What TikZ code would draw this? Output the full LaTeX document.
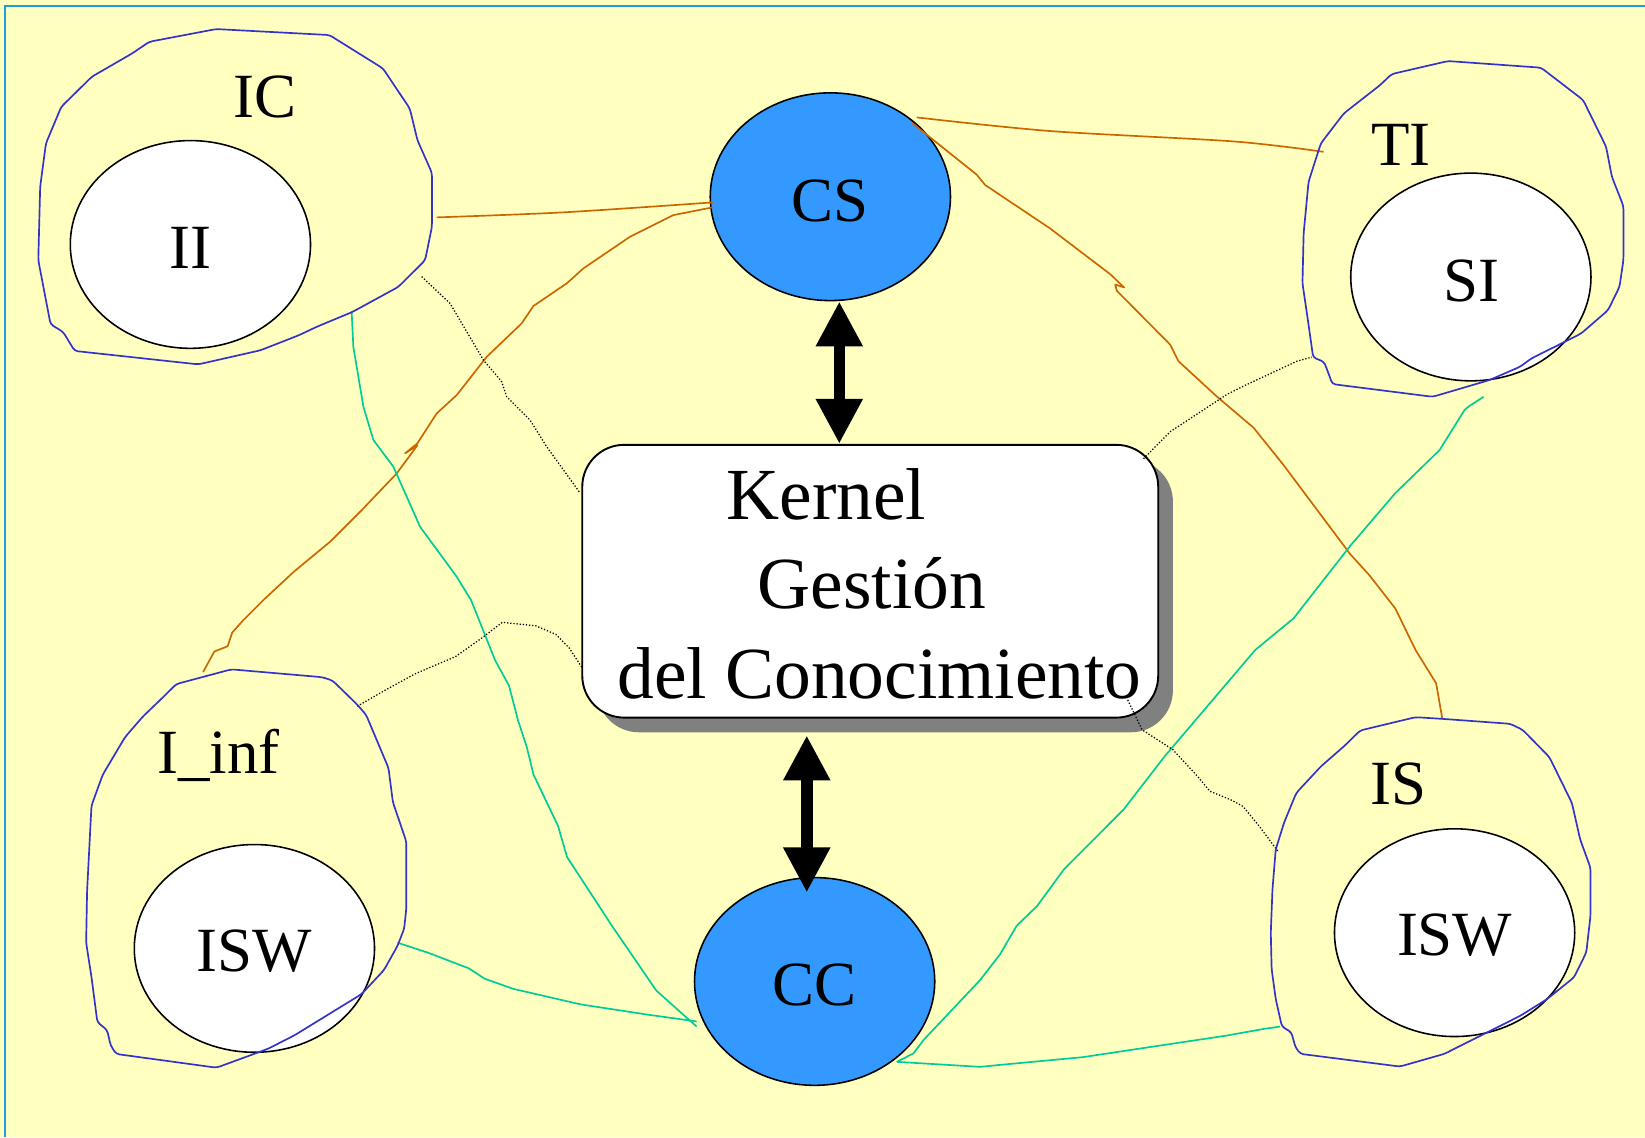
\documentclass[tikz,border=0pt]{standalone}
\usepackage{fontspec}
\setmainfont{Liberation Serif}
\usetikzlibrary{shapes.geometric,arrows.meta,shadows}
\definecolor{bgyellow}{RGB}{255,255,192}
\definecolor{framecyan}{RGB}{30,160,215}
\definecolor{blobblue}{RGB}{51,51,204}
\definecolor{linkorange}{RGB}{204,102,0}
\definecolor{linkgreen}{RGB}{0,204,153}
\definecolor{nodeblue}{RGB}{51,153,255}
\definecolor{shadowgray}{RGB}{128,128,128}
\begin{document}
\begin{tikzpicture}[x=0.5pt,y=-0.5pt,
  lbl/.style={font=\fontsize{30}{36}\selectfont, inner sep=0pt, anchor=base},
  klbl/.style={font=\fontsize{35}{42}\selectfont, inner sep=0pt, anchor=base},
  whiteell/.style={ellipse, draw=black, line width=0.75pt, fill=white, minimum width=114.5pt, minimum height=99pt, inner sep=0pt},
  blueell/.style={whiteell, fill=nodeblue},
  blob/.style={draw=blobblue, line width=0.8pt, rounded corners=1.5pt, line join=round},
  olink/.style={draw=linkorange, line width=0.8pt, line join=round},
  glink/.style={draw=linkgreen, line width=0.8pt, line join=round},
  dlink/.style={draw=black, line width=0.6pt, dash pattern=on 0.6pt off 0.9pt},
  bigarrow/.style={line width=5.5pt, {Triangle[width=21pt,length=21.5pt]}-{Triangle[width=21pt,length=21.5pt]}},
  kbox/.style={draw=black, line width=0.9pt, fill=white, rounded corners=20pt, minimum width=274.5pt, minimum height=130pt, inner sep=0pt, drop shadow={shadow xshift=7pt, shadow yshift=-7pt, fill=shadowgray, opacity=1}}
]
\useasboundingbox (0,0) rectangle (1568,1084);
\fill[bgyellow] (0,0) rectangle (1568,1084);
\draw[framecyan, line width=1pt] (5,1084) -- (5,6) -- (1568,6);

% ellipses
\node[whiteell] (II) at (181.5,233) {};
\node[whiteell] (SI) at (1402,264) {};
\node[whiteell] (ISWa) at (242.5,904) {};
\node[whiteell] (ISWb) at (1386.5,889) {};
\node[blueell] (CS) at (791.5,187.5) {};
\node[blueell] (CC) at (776.5,935.5) {};

% kernel box
\node[kbox] (kernel) at (829.5,554) {};

% orange links
\draw[olink] plot[smooth, tension=0.5] coordinates {(416.3,207.2) (537,202.4) (679.4,192.9)};
\draw[olink] (679.4,197.6) -- (641.9,205) -- (600.6,225.6) -- (556.1,255.8) -- (540.2,270.1) -- (508.4,291.7) -- (497.3,308.2) -- (464,340) -- (435.4,376.5) -- (416.3,394) -- (397.8,422.6) -- (386.1,432.1) -- (397.8,424.5) -- (378.2,451.2) -- (345,486) -- (314.6,516.4) -- (280,545) -- (251,572) -- (232,591) -- (221.3,603) -- (217,616) -- (204.3,621) -- (193.6,640.6);
\draw[olink] plot[smooth, tension=0.5] coordinates {(873.9,111.9) (1001,124.9) (1175.8,134.8) (1261.6,144.7)};
\draw[olink] (869.1,117) -- (931,166.5) -- (939,176.3) -- (1001,217.8) -- (1058.2,261.3) -- (1071.5,274) -- (1063,271.2) -- (1064.5,277.1) -- (1115.4,328.5) -- (1123.3,344.3) -- (1159.9,378) -- (1194.8,407.6) -- (1223.4,443.2) -- (1287,528.2) -- (1305,548) -- (1330,580) -- (1349.3,619.6) -- (1368.9,651.3) -- (1374.8,685.2);

% green links
\draw[glink] (335.2,297.1) -- (336.8,330.5) -- (346.4,387.7) -- (355.9,419.4) -- (375,444.9) -- (400.4,502.1) -- (435.3,549.7) -- (449,572) -- (471.9,629.2) -- (485.2,653.6) -- (493.7,686.3) -- (502.2,712.4) -- (508.6,738.5) -- (532,787.5) -- (540.5,816.9) -- (583.1,882.2) -- (625.6,944.2) -- (651.2,967.1) -- (664,978.5);
\draw[glink] (378.8,898.5) -- (408.6,908.3) -- (446.9,923) -- (461.8,932.8) -- (489.4,942.6) -- (553.3,957.3) -- (617.1,967.1) -- (664,973.6);
\draw[glink] (854.8,1012.1) -- (870.7,1004.1) -- (880.2,991.4) -- (934.2,934.2) -- (953.3,909.5) -- (969,882.5) -- (988.6,863.5) -- (1014.1,828.7) -- (1070.9,771.7) -- (1110.1,721) -- (1196.4,619.6) -- (1233,589.4) -- (1287,520.3) -- (1330,470) -- (1372.2,429) -- (1395.9,390.9) -- (1399.5,387.7) -- (1414.1,378.2);
\draw[glink] (854.8,1012.1) -- (934.2,1016.9) -- (953.3,1015) -- (1031.7,1007.7) -- (1169,987.1) -- (1204.2,980.8) -- (1220,978.5);

% dotted links
\draw[dlink] (402,263.7) -- (429,289.2) -- (460.8,343.2) -- (478.2,363.8) -- (483,378.1) -- (505.2,400.4) -- (521.1,425.8) -- (553,470);
\draw[dlink] (340.5,673.2) -- (366,658.5) -- (395.8,642.2) -- (434.1,625.9) -- (459.6,607.9) -- (478.8,593.2) -- (510.7,596.5) -- (529.9,604.7) -- (542.6,617.7) -- (555.4,637.3);
\draw[dlink] (1090,437.2) -- (1115.4,411.5) -- (1169.4,376) -- (1185.3,368) -- (1236.2,344.3) -- (1250.4,340.4);
\draw[dlink] (1074.9,667.1) -- (1088.6,695.6) -- (1118,714.6) -- (1141.5,740) -- (1153.3,754.2) -- (1172.9,762.2) -- (1184.6,768.5) -- (1200.3,787.5) -- (1218,811.3);

% blobs
\draw[blob] (206,27.7) -- (314,33.4) -- (365,65.2) -- (390.6,103.4) -- (397.9,133.6) -- (411.7,164.8) -- (411.7,216.3) -- (405.2,248.1) -- (379.6,273.5) -- (335.8,297.4) -- (303,311) -- (284.7,319.6) -- (248.2,333.9) -- (189,347.3) -- (71.2,334.5) -- (60.2,316.4) -- (48.2,309.1) -- (36.5,248) -- (38.3,178) -- (43.8,136.7) -- (58.4,101.8) -- (87.6,73.1) -- (126,50.9) -- (142.4,39.8) -- cycle;
\draw[blob] (1380.2,58.2) -- (1468.9,64.5) -- (1509,95.3) -- (1530.9,139.8) -- (1536.4,168.4) -- (1547.4,196.4) -- (1547.4,247.9) -- (1543.7,273.3) -- (1532.8,295.6) -- (1507.2,317.8) -- (1485.3,328.9) -- (1459.8,341.6) -- (1448.8,349.6) -- (1419.6,362.3) -- (1365.6,378.2) -- (1270,366.1) -- (1266.3,355.9) -- (1262,344.8) -- (1251.7,340.7) -- (1246.2,301.9) -- (1241.5,270.1) -- (1242.6,222.5) -- (1247.3,173.2) -- (1259,136.7) -- (1280.9,108.1) -- (1315.6,81) -- (1326.5,70.6) -- cycle;
\draw[blob] (220.5,638) -- (307.3,645.5) -- (317,648.7) -- (340.5,671.6) -- (349,681.4) -- (370.3,732) -- (374.5,764.6) -- (387.3,802.2) -- (387.3,865.9) -- (385.2,885.4) -- (378.8,901.8) -- (366,924.6) -- (344.7,947.5) -- (302.2,973.6) -- (280.9,986.7) -- (255.4,999.7) -- (206.4,1017.7) -- (110.7,1004.6) -- (105.5,996.5) -- (102.1,981.8) -- (92.8,974.3) -- (87.2,931.2) -- (82.1,898.5) -- (83,849.5) -- (87.2,767.9) -- (97.9,738.5) -- (119.2,702.6) -- (136.2,683) -- (153.2,666.7) -- (168.1,652) -- cycle;
\draw[blob] (1349.3,683.6) -- (1374.8,685.2) -- (1439.5,689.9) -- (1451.3,695.6) -- (1476.8,721.6) -- (1498.3,765.3) -- (1506.2,800.2) -- (1516,827.1) -- (1516,873.1) -- (1512,907.9) -- (1500.3,931.6) -- (1474.8,952.2) -- (1449.3,968.1) -- (1417.9,983.9) -- (1376.8,1004.5) -- (1334.4,1016.6) -- (1239.5,1004.5) -- (1234.8,998.2) -- (1230.9,983.9) -- (1221.9,978.5) -- (1216,952.2) -- (1212.1,923.7) -- (1211.3,888.9) -- (1212.9,847.7) -- (1216,809.7) -- (1223.9,784.3) -- (1235.6,755.8) -- (1259.1,730.5) -- (1282.7,709.9) -- (1296.4,696.3) -- cycle;

% double arrows
\path (CS.south) ++(8.5,0) coordinate (csArrow);
\draw[bigarrow] (csArrow) -- (csArrow |- kernel.north);
\path (CC.north) ++(-7.5,15) coordinate (ccArrow);
\path (kernel.south -| ccArrow) ++(0,16) coordinate (kArrow);
\draw[bigarrow] (kArrow) -- (ccArrow);

% labels
\node[lbl] (lIC) at (253,112) {IC};
\node[lbl] (lII) at (181.6,256.3) {II};
\node[lbl] (lTI) at (1335.3,157.3) {TI};
\node[lbl] (lSI) at (1402.6,287.6) {SI};
\node[lbl] (lIinf) at (208.5,737) {I\_inf};
\node[lbl] (lISWa) at (242.2,926) {ISW};
\node[lbl] (lIS) at (1332.7,767) {IS};
\node[lbl] (lISWb) at (1386.6,911) {ISW};
\node[lbl] (lCS) at (791.2,211) {CS};
\node[lbl] (lCC) at (776.1,958) {CC};
\node[klbl] (k1) at (787.6,495) {Kernel};
\node[klbl] (k2) at (831,580) {Gestión};
\node[klbl] (k3) at (838.2,666) {del Conocimiento};
\end{tikzpicture}
\end{document}
